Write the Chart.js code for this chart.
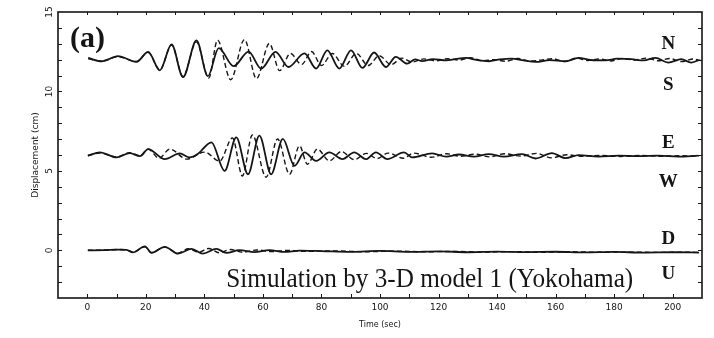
<!DOCTYPE html>
<html>
<head>
<meta charset="utf-8">
<script src="https://cdn.jsdelivr.net/npm/chart.js@4.4.0/dist/chart.umd.min.js"></script>
<style>
  html, body { margin: 0; padding: 0; background: #fff; }
  #wrap { width: 714px; height: 338px; }
</style>
</head>
<body>
<div id="wrap"><canvas id="chart" width="714" height="338"></canvas></div>
<script>
// Axis ticks
const xTickLabels = [0, 20, 40, 60, 80, 100, 120, 140, 160, 180, 200];
const xMinorTicks = [0, 10, 20, 30, 40, 50, 60, 70, 80, 90, 100, 110, 120, 130, 140, 150, 160, 170, 180, 190, 200];
const yTickLabels = [0, 5, 10, 15];
const yMinorTicks = [-2, -1, 0, 1, 2, 3, 4, 5, 6, 7, 8, 9, 10, 11, 12, 13, 14];

// N-S component (offset 12 cm) - solid trace
const nsTime = [0.3, 4.9, 10.5, 16.8, 20.8, 24.8, 28.8, 32.7, 37.3, 41.2, 44.9, 50.0, 55.1, 59.4, 64.3, 68.7,
  74.2, 78.2, 82.0, 86.1, 90.1, 94.0, 98.0, 102.0, 105.4, 109.3, 112, 114.4, 118, 122.6, 126, 129.4, 133,
  137.2, 141, 145.0, 149, 153.2, 158, 163.4, 167.8, 172, 177.1, 181, 185.9, 190, 194.1, 198.5, 202.9, 206.3, 208.7];
const nsSolid = [12.11, 11.90, 12.22, 11.86, 12.49, 11.33, 12.96, 10.90, 13.21, 10.96, 12.73, 11.59, 12.51, 11.44, 12.49, 11.54,
  12.39, 11.44, 12.59, 11.44, 12.59, 11.48, 12.45, 11.54, 12.18, 11.75, 12.02, 11.91, 12.03, 11.96, 12.05, 12.11, 11.98,
  11.90, 12.02, 12.07, 11.95, 11.86, 11.97, 11.90, 12.11, 11.98, 11.96, 12.06, 12.03, 11.95, 12.11, 11.82, 12.03, 11.82, 11.96];
// N-S dashed trace
const nsTimeB = [0.3, 4.9, 10.5, 16.8, 20.8, 24.8, 28.8, 32.7, 37.3, 41.5, 44.5, 49.0, 53.7, 57.8, 62.2, 65.7, 69.4,
  73.2, 76.6, 80.0, 83.7, 87.8, 91.9, 96.0, 99.7, 103.8, 107.5, 111, 115, 119, 123, 127, 131, 135, 139, 143,
  147, 151, 155, 159, 163, 167, 171, 175, 179, 183, 187, 191, 195, 199, 203, 207, 209.5];
const nsDashed = [12.05, 11.92, 12.18, 11.88, 12.45, 11.36, 12.92, 10.95, 13.12, 10.85, 13.23, 10.74, 13.27, 10.80, 13.02, 11.31, 12.39,
  11.69, 12.51, 11.63, 12.39, 11.58, 12.39, 11.63, 12.25, 11.69, 12.10, 11.85, 12.05, 11.92, 12.06, 11.97, 12.12, 11.93, 12.00, 11.90,
  12.08, 11.92, 11.97, 12.06, 11.88, 12.09, 11.95, 12.05, 11.92, 12.08, 11.98, 12.10, 11.93, 12.07, 11.88, 12.04, 11.95];

// E-W component (offset 6 cm)
const ewTime = [0.2, 4.3, 10.0, 14.5, 18.0, 20.8, 26.5, 31.6, 35.0, 37.7, 42.4, 46.9, 50.9, 54.9, 58.8, 62.8, 66.8, 70.8,
  74.2, 78.2, 82.7, 87.2, 91.2, 95.2, 98.6, 102.5, 108.2, 111.0, 117.8, 122.6, 127.0, 132.1, 137.2, 142.3, 148.5,
  153.2, 158.7, 163.4, 167.8, 174.7, 181.5, 188.3, 195.1, 201.9, 208.7];
const ewSolid = [5.95, 6.16, 5.85, 6.12, 5.93, 6.37, 5.74, 6.10, 5.85, 6.06, 6.80, 5.00, 7.11, 4.79, 7.22, 4.79, 7.01, 5.32,
  6.16, 5.63, 6.16, 5.74, 6.16, 5.74, 6.16, 5.74, 6.16, 5.85, 6.10, 5.90, 6.03, 5.90, 6.06, 5.90, 6.06,
  5.78, 6.12, 5.80, 5.99, 5.90, 5.96, 5.93, 5.96, 5.90, 5.96];
const ewTimeB = [0.2, 4.3, 10.0, 14.5, 18.0, 20.8, 24.5, 28.2, 34.0, 40.1, 45.2, 49.6, 53.0, 56.4, 61.1, 65.0, 69.1,
  72.5, 75.2, 78.6, 82.7, 86.8, 91.2, 95.4, 99.0, 102.8, 108.0, 111.5, 117.5, 122.8, 127.5, 132.5, 137.5, 142.5,
  148.0, 153.5, 158.5, 163.8, 168.5, 175.0, 182.0, 189.0, 196.0, 202.5, 209.0];
const ewDashed = [5.97, 6.12, 5.88, 6.15, 5.95, 6.37, 5.80, 6.37, 5.74, 6.18, 5.61, 7.07, 4.68, 7.26, 4.60, 7.01, 4.79,
  6.58, 5.42, 6.37, 5.63, 6.22, 5.71, 6.10, 5.78, 6.12, 5.80, 6.12, 5.86, 6.08, 5.92, 6.05, 5.88, 6.08,
  5.93, 6.10, 5.82, 6.02, 5.92, 5.97, 5.91, 5.97, 5.92, 5.95, 5.93];

// D-U component (offset 0 cm)
const duTime = [0.2, 6.0, 10.5, 13.4, 15.6, 19.7, 21.9, 26.5, 31.0, 35.6, 39.5, 44.1, 47.5, 52.0, 57.1, 62.2, 67.4, 72.5,
  80, 90, 100, 110, 120, 130, 140, 150, 160, 170, 180, 190, 200, 209];
const duSolid = [0.00, 0.01, 0.04, 0.03, -0.13, 0.25, -0.16, 0.22, -0.21, 0.09, -0.21, 0.09, -0.16, 0.01, -0.11, 0.01, -0.10, -0.02,
  -0.05, -0.10, -0.04, -0.10, -0.06, -0.12, -0.08, -0.11, -0.09, -0.13, -0.10, -0.14, -0.12, -0.14];
const duTimeB = [0.2, 6.0, 10.5, 13.4, 15.6, 19.7, 21.9, 26.5, 31.0, 34.5, 38.0, 41.5, 45.0, 49.0, 53.0, 58.0, 63.0, 68.0,
  74, 85, 95, 105, 115, 125, 135, 145, 155, 165, 175, 185, 195, 205, 209];
const duDashed = [0.01, 0.02, 0.05, 0.02, -0.10, 0.22, -0.14, 0.20, -0.18, 0.10, -0.12, 0.12, -0.15, 0.05, -0.12, 0.02, -0.08, 0.00,
  -0.06, -0.04, -0.09, -0.05, -0.09, -0.07, -0.11, -0.08, -0.12, -0.09, -0.12, -0.11, -0.13, -0.12, -0.13];

// Component letters on the right side
const compLetters = ['N', 'S', 'E', 'W', 'D', 'U'];
const compLetterY = [12.95, 10.38, 6.77, 4.27, 0.68, -1.5];

const INK = '#151515';
const SMALL_FONT = '"DejaVu Sans", Verdana, sans-serif';

function toPoints(times, values) {
    return times.map((t, i) => ({ x: t, y: values[i] }));
}

function traceSet(label, times, values, dashed) {
    return {
        label: label,
        data: toPoints(times, values),
        borderColor: INK,
        borderWidth: dashed ? 1.4 : 1.8,
        borderDash: dashed ? [5, 3] : [],
        pointRadius: 0,
        cubicInterpolationMode: 'monotone',
        fill: false
    };
}

// Frame, inward tick marks, rotated y labels and text annotations
const decorPlugin = {
    id: 'decor',
    afterDraw(chart) {
        const ctx = chart.ctx;
        const area = chart.chartArea;
        const xs = chart.scales.x;
        const ys = chart.scales.y;

        ctx.save();
        ctx.strokeStyle = INK;
        ctx.lineWidth = 1.6;
        ctx.strokeRect(area.left, area.top, area.right - area.left, area.bottom - area.top);

        ctx.lineWidth = 1;
        ctx.beginPath();
        xMinorTicks.forEach(v => {
            const px = Math.round(xs.getPixelForValue(v)) + 0.5;
            ctx.moveTo(px, area.bottom);
            ctx.lineTo(px, area.bottom - 4);
            ctx.moveTo(px, area.top);
            ctx.lineTo(px, area.top + 3);
        });
        yMinorTicks.forEach(v => {
            const py = Math.round(ys.getPixelForValue(v)) + 0.5;
            ctx.moveTo(area.left, py);
            ctx.lineTo(area.left + 4, py);
            ctx.moveTo(area.right, py);
            ctx.lineTo(area.right - 4, py);
        });
        ctx.stroke();

        // y tick labels, rotated like the original
        ctx.fillStyle = INK;
        ctx.font = '9px ' + SMALL_FONT;
        ctx.textAlign = 'center';
        ctx.textBaseline = 'middle';
        yTickLabels.forEach(v => {
            ctx.save();
            ctx.translate(50, ys.getPixelForValue(v));
            ctx.rotate(-Math.PI / 2);
            ctx.fillText(String(v), 0, 0);
            ctx.restore();
        });

        // component letters
        ctx.font = 'bold 19px "Liberation Serif", "Times New Roman", serif';
        compLetters.forEach((s, i) => {
            ctx.fillText(s, xs.getPixelForValue(198.5), ys.getPixelForValue(compLetterY[i]));
        });

        // panel tag
        ctx.font = 'bold 30px "Liberation Serif", "Times New Roman", serif';
        ctx.textAlign = 'left';
        ctx.textBaseline = 'alphabetic';
        ctx.fillText('(a)', area.left + 12, area.top + 35);

        // caption
        ctx.font = '28px "Liberation Serif", "Times New Roman", serif';
        ctx.save();
        ctx.translate(xs.getPixelForValue(47.5), ys.getPixelForValue(-2.28));
        ctx.scale(0.9, 1);
        ctx.fillText('Simulation by 3-D model 1 (Yokohama)', 0, 0);
        ctx.restore();

        ctx.restore();
    }
};

new Chart(document.getElementById('chart'), {
    type: 'line',
    data: {
        datasets: [
            traceSet('N-S observed', nsTime, nsSolid, false),
            traceSet('N-S simulated', nsTimeB, nsDashed, true),
            traceSet('E-W observed', ewTime, ewSolid, false),
            traceSet('E-W simulated', ewTimeB, ewDashed, true),
            traceSet('D-U observed', duTime, duSolid, false),
            traceSet('D-U simulated', duTimeB, duDashed, true)
        ]
    },
    options: {
        responsive: false,
        devicePixelRatio: 1,
        animation: false,
        layout: { padding: { top: 12, right: 12, left: 0, bottom: 0 } },
        plugins: {
            legend: { display: false },
            tooltip: { enabled: false }
        },
        scales: {
            x: {
                type: 'linear',
                min: -10,
                max: 210,
                afterBuildTicks: axis => { axis.ticks = xTickLabels.map(v => ({ value: v })); },
                afterFit: axis => { axis.height = 40; },
                grid: { display: false, drawTicks: false, tickLength: 0 },
                border: { display: false },
                ticks: {
                    color: INK,
                    padding: 4,
                    maxRotation: 0,
                    font: { family: SMALL_FONT, size: 9 }
                },
                title: {
                    display: true,
                    text: 'Time (sec)',
                    color: INK,
                    padding: { top: 0, bottom: 8 },
                    font: { family: SMALL_FONT, size: 8 }
                }
            },
            y: {
                type: 'linear',
                min: -3,
                max: 15,
                afterFit: axis => { axis.width = 58; },
                grid: { display: false, drawTicks: false, tickLength: 0 },
                border: { display: false },
                ticks: { display: false },
                title: {
                    display: true,
                    text: 'Displacement (cm)',
                    color: INK,
                    padding: { top: 30, bottom: 0 },
                    font: { family: SMALL_FONT, size: 9 }
                }
            }
        }
    },
    plugins: [decorPlugin]
});
</script>
</body>
</html>
